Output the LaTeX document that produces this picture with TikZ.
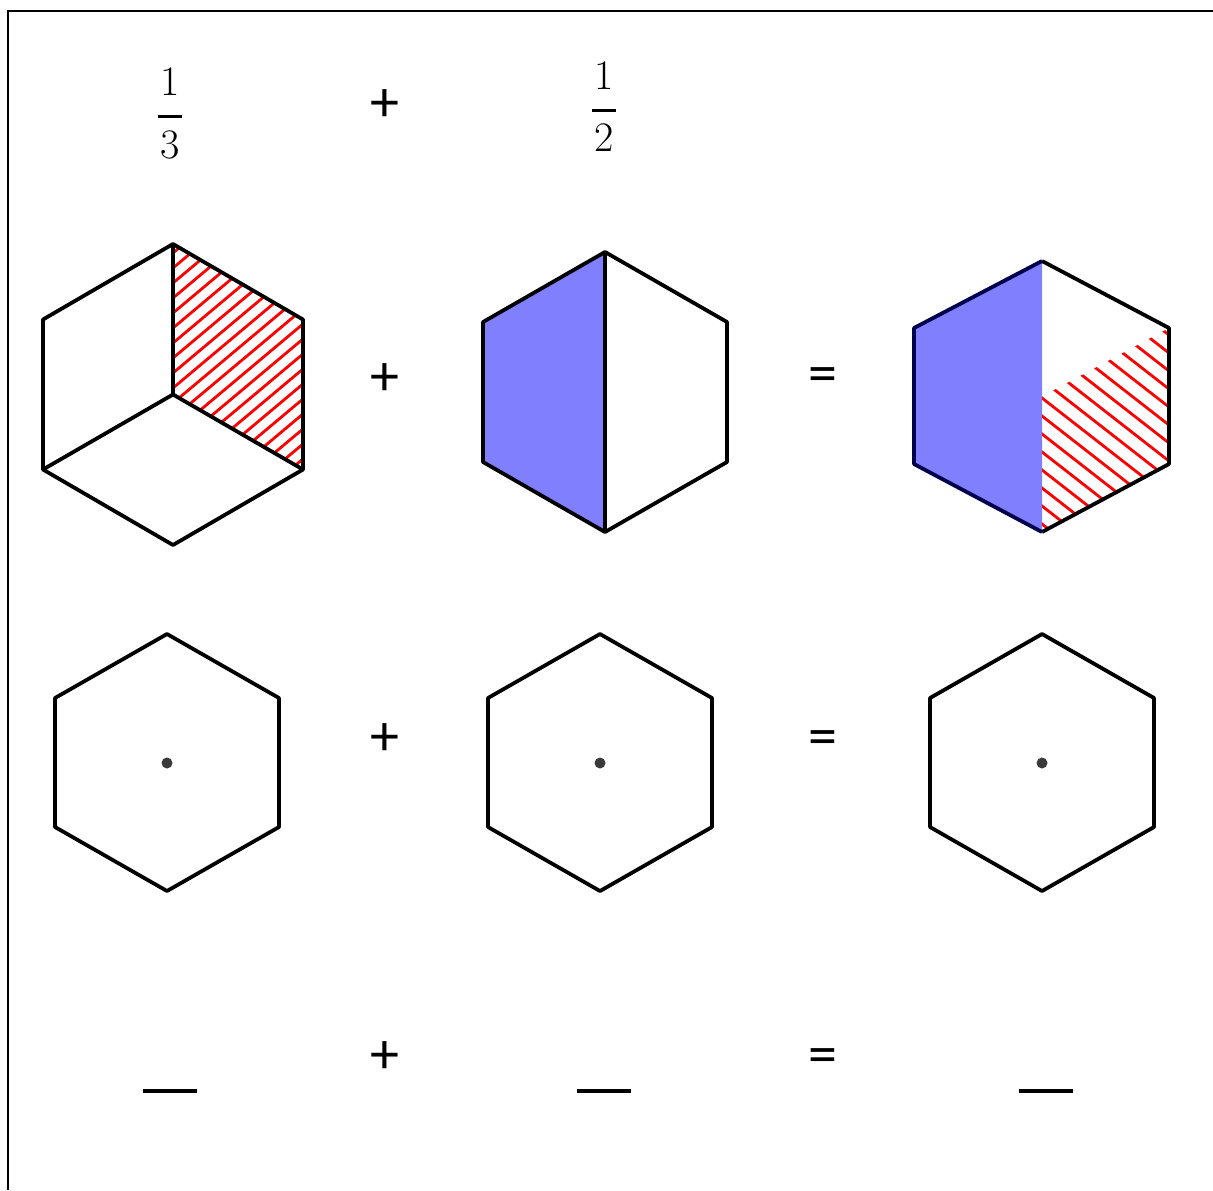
\documentclass[tikz,border=0pt]{standalone}
\usepackage{fontspec}
\newfontfamily\opfont{Carlito}
\definecolor{halfblue}{HTML}{8080FF}
\definecolor{dotgray}{HTML}{3A3A3A}
\begin{document}
\begin{tikzpicture}[x=0.5pt,y=-0.5pt,
  hexline/.style={line width=1.9pt,line join=round},
  hatchline/.style={red,line width=1.4pt},
  opsign/.style={inner sep=0pt,font=\opfont\fontsize{29}{31}\selectfont},
  digit/.style={inner sep=0pt,font=\fontsize{21}{25}\selectfont},
  fracbar/.style={line width=1.5pt},
  blankline/.style={line width=2pt},
  cdot/.style={circle,fill=dotgray,inner sep=0pt,minimum size=5.5pt}]
\useasboundingbox (0,0) rectangle (1213,1190);
% frame (top and left)
\draw[line width=1.2pt] (8,1190) -- (8,11) -- (1213,11);

% fractions
\node[digit] (n1) at (170,82) {1};
\node[digit] (d1) at (170,144.5) {3};
\draw[fracbar] (158,116) -- (182,116);
\node[digit] (n2) at (604,76) {1};
\node[digit] (d2) at (604,138) {2};
\draw[fracbar] (592,110) -- (616,110);

% operators
\node[opsign] (p0) at (385,106) {+};
\node[opsign] (p1) at (385,380) {+};
\node[opsign] (e1) at (823,380) {=};
\node[opsign] (p2) at (385,740) {+};
\node[opsign] (e2) at (823,743) {=};
\node[opsign] (p3) at (385,1058) {+};
\node[opsign] (e3) at (823,1061) {=};

% ---- hexagon 1 (thirds, one hatched)
\coordinate (aT) at (173,244);
\coordinate (aUR) at (303,319.5);
\coordinate (aLR) at (303,469.5);
\coordinate (aB) at (173,545);
\coordinate (aLL) at (43,469.5);
\coordinate (aUL) at (43,319.5);
\coordinate (aC) at (173,394.5);
\begin{scope}
  \clip (aT) -- (aUR) -- (aLR) -- (aC) -- cycle;
  \foreach \k in {0,...,22} {
    \draw[hatchline] (100,{238+15*\k+73*0.839}) -- (330,{238+15*\k-157*0.839});
  }
\end{scope}
\draw[hexline] (aT) -- (aUR) -- (aLR) -- (aB) -- (aLL) -- (aUL) -- cycle;
\draw[hexline] (aT) -- (aC) -- (aLL) (aC) -- (aLR);

% ---- hexagon 2 (halves)
\coordinate (bT) at (605,252);
\coordinate (bUR) at (727,322);
\coordinate (bLR) at (727,462);
\coordinate (bB) at (605,532);
\coordinate (bLL) at (483,462);
\coordinate (bUL) at (483,322);
\fill[halfblue] (bT) -- (bUL) -- (bLL) -- (bB) -- cycle;
\draw[hexline] (bT) -- (bUR) -- (bLR) -- (bB) -- (bLL) -- (bUL) -- cycle;
\draw[hexline] (bT) -- (bB);

% ---- hexagon 3 (sum)
\coordinate (cT) at (1042,261);
\coordinate (cUR) at (1169,328);
\coordinate (cLR) at (1169,464);
\coordinate (cB) at (1042,532);
\coordinate (cLL) at (914,464);
\coordinate (cUL) at (914,328);
\coordinate (cC) at (1042,396.5);
\fill[halfblue] (cT) -- (cUL) -- (cLL) -- (cB) -- cycle;
\begin{scope}
  \clip (cC) -- (cUR) -- (cLR) -- (cB) -- cycle;
  \foreach \k in {0,...,17} {
    \draw[hatchline] (1000,{236+18*\k-42*0.78}) -- (1200,{236+18*\k+158*0.78});
  }
\end{scope}
\draw[hexline] (cT) -- (cUR) -- (cLR) -- (cB);
\draw[hexline,draw=black!70!blue] (cB) -- (cLL) -- (cUL) -- (cT);

% ---- row 2 empty hexagons
\foreach \cx/\nm in {167/hA,600/hB,1042/hC} {
  \draw[hexline] (\cx,634) -- (\cx+112,698) -- (\cx+112,827) -- (\cx,891)
     -- (\cx-112,827) -- (\cx-112,698) -- cycle;
  \node[cdot] (\nm) at (\cx,763) {};
}

% ---- answer blanks
\draw[blankline] (143,1091) -- (197,1091);
\draw[blankline] (577,1091) -- (631,1091);
\draw[blankline] (1019,1091) -- (1073,1091);
\end{tikzpicture}
\end{document}
